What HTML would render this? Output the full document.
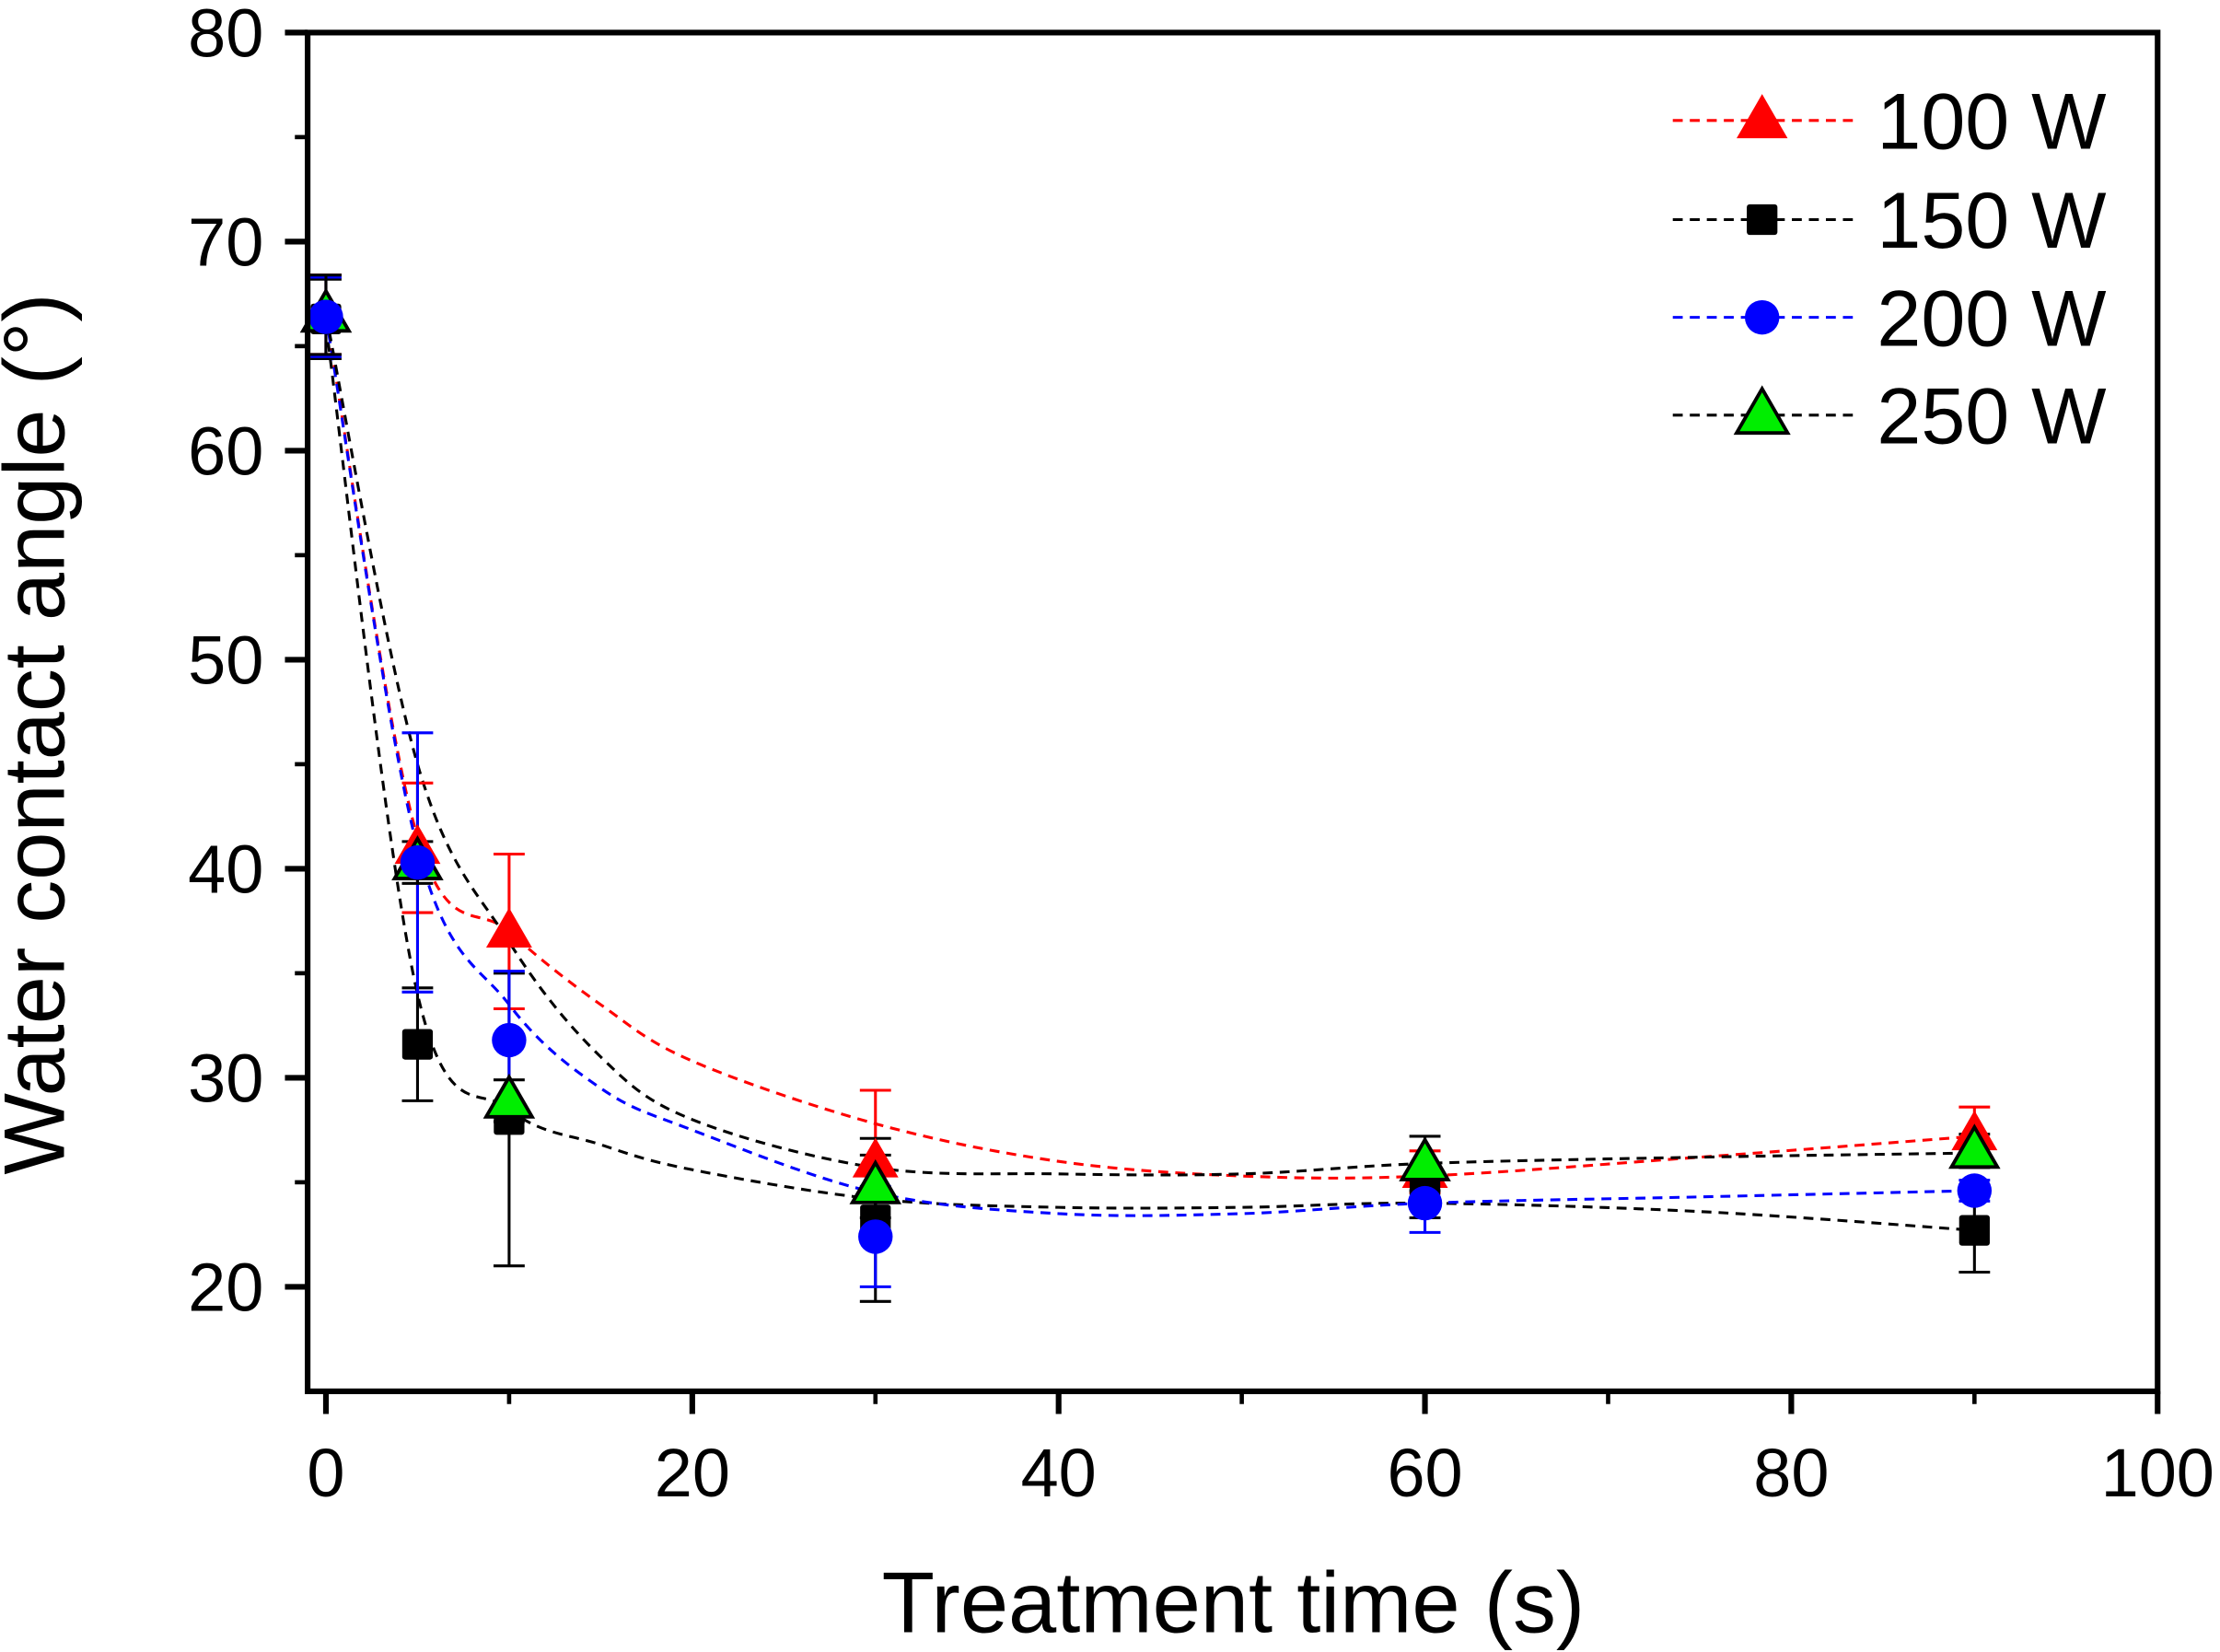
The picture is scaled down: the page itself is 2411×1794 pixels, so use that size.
<!DOCTYPE html>
<html><head><meta charset="utf-8"><style>
html,body{margin:0;padding:0;background:#fff;}
svg{display:block;font-family:"Liberation Sans",Arial,sans-serif;}
</style></head><body>
<svg id="chart" width="2411" height="1794" viewBox="0 0 1566 1166" preserveAspectRatio="none" xmlns="http://www.w3.org/2000/svg">
<rect width="1566" height="1166" fill="#fff"/>
<g id="marks"></g>
<rect x="217" y="23" width="1305" height="959" fill="none" stroke="#000" stroke-width="4"/>
<g id="axes"></g>
<text x="870" y="1152" font-size="61" text-anchor="middle">Treatment time (s)</text>
<text transform="translate(45,518) rotate(-90)" font-size="61" text-anchor="middle">Water contact angle (°)</text>
<g id="legend"></g>
</svg>
<script>
const xTicks=[0,20,40,60,80,100];
const yTicks=[20,30,40,50,60,70,80];
const times=[0,5,10,30,60,90];
const v100=[66.5,41.0,37.0,26.0,25.5,27.3];
const e100=[1.9,3.1,3.7,3.4,1.0,1.3];
const v150=[66.3,31.6,28.0,23.2,24.5,22.7];
const e150=[1.9,2.7,7.0,3.9,1.2,2.0];
const v200=[66.4,40.3,31.8,22.4,24.0,24.6];
const e200=[1.9,6.2,3.3,2.4,1.4,0.5];
const v250=[66.5,40.3,28.9,24.8,25.9,26.5];
const e250=[1.9,1.0,1.0,1.5,1.3,0.8];
const fitT=[0,5,10,15,20,30,40,50,60,75,90];
const fit100=[66.5,41.5,37.0,33.5,30.8,27.8,26.0,25.3,25.3,26.2,27.2];
const fit150=[66.0,34.0,28.5,26.8,25.6,24.2,23.8,23.8,24.0,23.6,22.7];
const fit200=[66.4,41.0,33.5,29.5,27.5,24.5,23.5,23.5,24.0,24.3,24.6];
const fit250=[66.5,45.0,36.5,31.0,28.0,25.7,25.4,25.4,25.9,26.2,26.4];
const legendLabels=['100 W','150 W','200 W','250 W'];

const NS='http://www.w3.org/2000/svg';
const X0=217,X1=1522,Y0=982,Y1=23,XMIN=-1,XMAX=100,YMIN=15,YMAX=80;
function sx(v){return X0+(v-XMIN)/(XMAX-XMIN)*(X1-X0);}
function sy(v){return Y0-(v-YMIN)/(YMAX-YMIN)*(Y0-Y1);}
function mk(tag,attrs,parent){const e=document.createElementNS(NS,tag);for(const k in attrs)e.setAttribute(k,attrs[k]);parent.appendChild(e);return e;}
const axes=document.getElementById('axes'),marks=document.getElementById('marks'),legend=document.getElementById('legend');

xTicks.forEach(t=>{
  const l=mk('line',{x1:sx(t),x2:sx(t),y1:Y0,y2:Y0+16,stroke:'#000','stroke-width':4},axes);
  
  
  const tx=mk('text',{x:sx(t),y:1056,'font-size':48,'text-anchor':'middle'},axes);
  tx.textContent=t;
  
  
});
[10,30,50,70,90].forEach(t=>{
  const l=mk('line',{x1:sx(t),x2:sx(t),y1:Y0,y2:Y0+9,stroke:'#000','stroke-width':3},axes);
  
  
});
yTicks.forEach(t=>{
  const l=mk('line',{x1:X0-16,x2:X0,y1:sy(t),y2:sy(t),stroke:'#000','stroke-width':4},axes);
  
  
  const tx=mk('text',{x:186,y:sy(t)+17,'font-size':48,'text-anchor':'end'},axes);
  tx.textContent=t;
  
  
});
[25,35,45,55,65,75].forEach(t=>{
  const l=mk('line',{x1:X0-9,x2:X0,y1:sy(t),y2:sy(t),stroke:'#000','stroke-width':3},axes);
  
  
});

function smoothPath(xs,ys){
  const p=xs.map((x,i)=>[sx(x),sy(ys[i])]);
  let d='M'+p[0][0]+','+p[0][1];
  for(let i=0;i<p.length-1;i++){
    const p0=p[i-1]||p[i],p1=p[i],p2=p[i+1],p3=p[i+2]||p[i+1];
    const c1=[p1[0]+(p2[0]-p0[0])/6,p1[1]+(p2[1]-p0[1])/6];
    const c2=[p2[0]-(p3[0]-p1[0])/6,p2[1]-(p3[1]-p1[1])/6];
    d+=' C'+c1+' '+c2+' '+p2;
  }
  return d;
}
function marker(type,cx,cy,fill,parent,s){
  let e;
  if(type==='tri'){
    const h=s;
    e=mk('polygon',{points:`${cx},${cy-h*0.62} ${cx-h*0.6},${cy+h*0.42} ${cx+h*0.6},${cy+h*0.42}`,fill:fill,stroke:fill==='#00ee00'?'#000':'none','stroke-width':2.5},parent);
  }else if(type==='sq'){
    e=mk('rect',{x:cx-s*0.45,y:cy-s*0.45,width:s*0.9,height:s*0.9,rx:2,fill:fill},parent);
  }else{
    e=mk('circle',{cx:cx,cy:cy,r:s*0.45,fill:fill},parent);
  }
  return e;
}
const series=[
  {name:'100w',v:v100,e:e100,fit:fit100,col:'#ff0000',ecol:'#ff0000',type:'tri',fill:'#ff0000'},
  {name:'150w',v:v150,e:e150,fit:fit150,col:'#000',ecol:'#000',type:'sq',fill:'#000'},
  {name:'200w',v:v200,e:e200,fit:fit200,col:'#0000ff',ecol:'#0000ff',type:'circ',fill:'#0000ff'},
  {name:'250w',v:v250,e:e250,fit:fit250,col:'#000',ecol:'#000',type:'tri',fill:'#00ee00'}
];
series.forEach(s=>{
  const p=mk('path',{d:smoothPath(fitT,s.fit),fill:'none',stroke:s.col,'stroke-width':2,'stroke-dasharray':'7,5'},marks);
  
  
});
series.forEach(s=>{
  times.forEach((t,i)=>{
    const x=sx(t),yt=sy(s.v[i]+s.e[i]),yb=sy(s.v[i]-s.e[i]);
    const g=mk('g',{},marks);
    
    
    mk('line',{x1:x,x2:x,y1:yt,y2:yb,stroke:s.ecol,'stroke-width':2},g);
    mk('line',{x1:x-11,x2:x+11,y1:yt,y2:yt,stroke:s.ecol,'stroke-width':2},g);
    mk('line',{x1:x-11,x2:x+11,y1:yb,y2:yb,stroke:s.ecol,'stroke-width':2},g);
  });
});
[series[0],series[1],series[3],series[2]].forEach(s=>{
  times.forEach((t,i)=>{
    const m=marker(s.type,sx(t),sy(s.v[i]),s.fill,marks,s.type==='sq'?24:(s.type==='circ'?27:27));
    
    
  });
});
const ly=[85,155,224,293];
series.forEach((s,i)=>{
  const g=mk('g',{},legend);
  
  
  mk('line',{x1:1180,x2:1307,y1:ly[i],y2:ly[i],stroke:s.col,'stroke-width':2,'stroke-dasharray':'7,5'},g);
  marker(s.type,1243,ly[i],s.fill,g,s.type==='sq'?24:(s.type==='circ'?27:30));
  const tx=mk('text',{x:1324,y:ly[i]+20,'font-size':56},g);
  tx.textContent=legendLabels[i];
});
</script>
</body></html>
